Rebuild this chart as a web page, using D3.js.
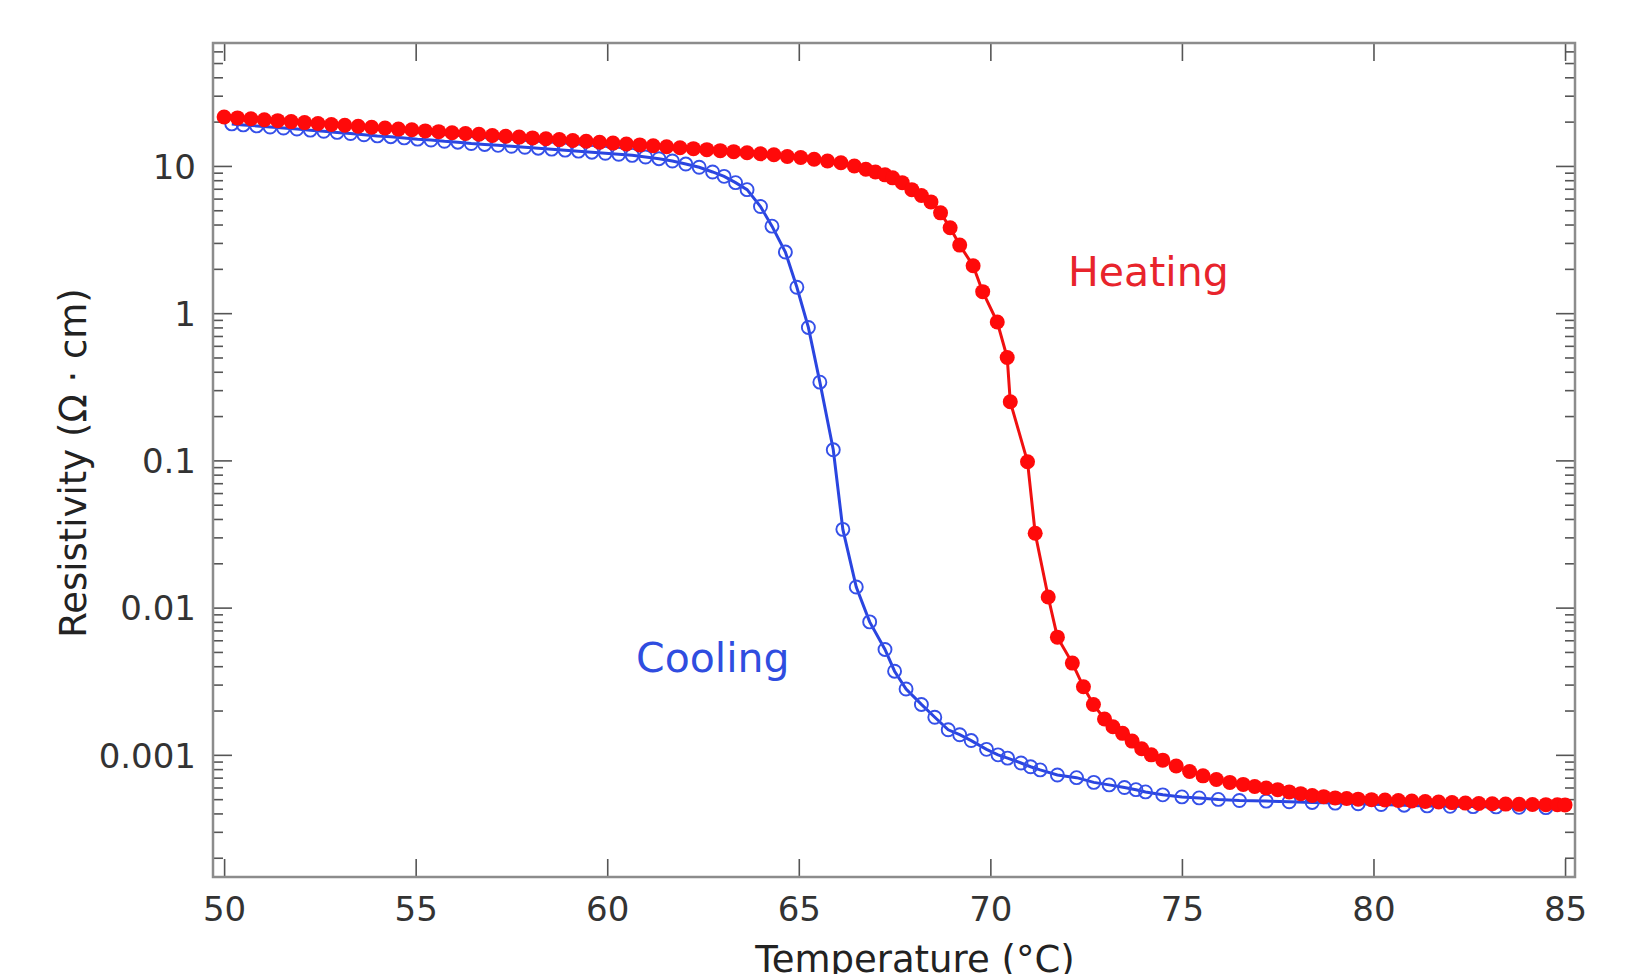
<!DOCTYPE html>
<html>
<head>
<meta charset="utf-8">
<script src="https://cdn.jsdelivr.net/npm/d3@7"></script>
<style>
  body { margin: 0; background: #fff; }
  svg { display: block; }
  .axis text { font-family: "DejaVu Sans", sans-serif; font-size: 34px; fill: #333; }
  .axis path { display: none; }
  .axis line { stroke: #555; stroke-width: 1.6; }
</style>
</head>
<body>
<div id="chart"></div>
<script>
var width = 1645, height = 974;

// heating run (filled red dots)
var heatT = [50.0, 50.35, 50.7, 51.05, 51.4, 51.75, 52.1, 52.45, 52.8, 53.15, 53.5, 53.85, 54.2, 54.55, 54.9,
  55.25, 55.6, 55.95, 56.3, 56.65, 57.0, 57.35, 57.7, 58.05, 58.4, 58.75, 59.1, 59.45, 59.8, 60.15,
  60.5, 60.85, 61.2, 61.55, 61.9, 62.25, 62.6, 62.95, 63.3, 63.65, 64.0, 64.35, 64.7, 65.05, 65.4,
  65.75, 66.1, 66.45, 66.75, 67.0, 67.25, 67.45, 67.7, 67.95, 68.2, 68.45, 68.7, 68.95, 69.2, 69.55,
  69.8, 70.18, 70.44, 70.52, 70.97, 71.17, 71.51, 71.75, 72.14, 72.43, 72.69, 72.98, 73.2, 73.45, 73.7,
  73.95, 74.2, 74.5, 74.85, 75.2, 75.55, 75.9, 76.25, 76.6, 76.9, 77.2, 77.5, 77.8, 78.1, 78.4,
  78.7, 79.0, 79.3, 79.6, 79.95, 80.3, 80.65, 81.0, 81.35, 81.7, 82.05, 82.4, 82.75, 83.1, 83.45,
  83.8, 84.15, 84.5, 84.8, 85.0];
var heatR = [21.5, 21.2, 20.9, 20.6, 20.3, 20.0, 19.7, 19.4, 19.1, 18.9, 18.6, 18.3, 18.1, 17.8, 17.6,
  17.3, 17.1, 16.8, 16.6, 16.4, 16.1, 15.9, 15.7, 15.5, 15.3, 15.1, 14.9, 14.7, 14.5, 14.3,
  14.1, 13.9, 13.7, 13.5, 13.3, 13.1, 12.9, 12.7, 12.5, 12.3, 12.1, 11.9, 11.6, 11.4, 11.1,
  10.8, 10.5, 10.0, 9.5, 9.1, 8.7, 8.3, 7.7, 6.9, 6.3, 5.7, 4.8, 3.8, 2.9, 2.1,
  1.4, 0.87, 0.5, 0.25, 0.098, 0.032, 0.0118, 0.0063, 0.0042, 0.0029, 0.0022, 0.00175, 0.00155, 0.0014, 0.00124,
  0.0011, 0.001, 0.00092, 0.00084, 0.00077, 0.00072, 0.00068, 0.00065, 0.00063, 0.00061, 0.000595, 0.00058, 0.00056, 0.000545, 0.00053,
  0.00052, 0.00051, 0.000505, 0.0005, 0.000496, 0.000494, 0.00049, 0.000486, 0.000482, 0.000478, 0.000474, 0.00047, 0.000467, 0.000465, 0.000463,
  0.000461, 0.00046, 0.000459, 0.000458, 0.000457];

// cooling run (open blue circles)
var coolT = [50.2, 50.5, 50.85, 51.2, 51.55, 51.9, 52.25, 52.6, 52.95, 53.3, 53.65, 54.0, 54.35, 54.7, 55.05,
  55.4, 55.75, 56.1, 56.45, 56.8, 57.15, 57.5, 57.85, 58.2, 58.55, 58.9, 59.25, 59.6, 59.95, 60.3,
  60.65, 61.0, 61.35, 61.7, 62.05, 62.4, 62.75, 63.05, 63.35, 63.65, 64.0, 64.3, 64.65, 64.95, 65.25,
  65.55, 65.9, 66.15, 66.5, 66.85, 67.25, 67.5, 67.8, 68.2, 68.55, 68.9, 69.2, 69.5, 69.9, 70.2,
  70.45, 70.8, 71.05, 71.3, 71.75, 72.25, 72.7, 73.1, 73.5, 73.8, 74.05, 74.5, 75.0, 75.45, 75.95,
  76.5, 77.2, 77.8, 78.4, 79.0, 79.6, 80.2, 80.8, 81.4, 82.0, 82.6, 83.2, 83.8, 84.5];
var coolR = [19.3, 19.0, 18.7, 18.4, 18.1, 17.8, 17.5, 17.2, 16.9, 16.6, 16.3, 16.0, 15.8, 15.5, 15.2,
  15.0, 14.7, 14.5, 14.2, 14.0, 13.8, 13.6, 13.4, 13.2, 13.0, 12.8, 12.6, 12.4, 12.2, 12.0,
  11.8, 11.5, 11.2, 10.8, 10.3, 9.8, 9.1, 8.5, 7.7, 6.9, 5.3, 3.9, 2.6, 1.5, 0.8,
  0.34, 0.118, 0.034, 0.0138, 0.008, 0.0052, 0.0037, 0.0028, 0.0022, 0.0018, 0.00148, 0.00137, 0.00125, 0.00109, 0.001,
  0.00095, 0.00088, 0.00083, 0.00079, 0.00073, 0.0007, 0.00065, 0.000625, 0.0006, 0.00058, 0.00056, 0.000535, 0.000518, 0.00051, 0.000498,
  0.00049, 0.000485, 0.00048, 0.000475, 0.00047, 0.000465, 0.00046, 0.000455, 0.00045, 0.000447, 0.000445, 0.000443, 0.00044, 0.000438];

var xTicks = [50, 55, 60, 65, 70, 75, 80, 85];
var yMajor = [0.001, 0.01, 0.1, 1, 10];
var yLabels = ["0.001", "0.01", "0.1", "1", "10"];

var mLeft = 213, mRight = 1575, mTop = 43, mBottom = 877;

var svg = d3.select("#chart").append("svg")
  .attr("width", width)
  .attr("height", height);

var x = d3.scaleLinear().domain([49.71, 85.26]).range([mLeft, mRight]);
var y = d3.scaleLog().domain([1.48e-4, 68.4]).range([mBottom, mTop]);

// minor ticks of the log axis, no labels
var yMinor = y.ticks().filter(function(v) {
  return yMajor.every(function(m) { return Math.abs(v / m - 1) > 1e-6; });
});

function fmtY(v, i) { return yLabels[i]; }

// bottom + top
svg.append("g").attr("class", "axis xax")
  .attr("transform", "translate(0," + mBottom + ")")
  .call(d3.axisBottom(x).tickValues(xTicks).tickSize(-18).tickPadding(19).tickFormat(d3.format("d")));
svg.append("g").attr("class", "axis")
  .attr("transform", "translate(0," + mTop + ")")
  .call(d3.axisTop(x).tickValues(xTicks).tickSize(-18).tickFormat(""));

// left + right, major and minor
svg.append("g").attr("class", "axis yax")
  .attr("transform", "translate(" + mLeft + ",0)")
  .call(d3.axisLeft(y).tickValues(yMajor).tickSize(-19).tickPadding(17).tickFormat(fmtY));
svg.append("g").attr("class", "axis")
  .attr("transform", "translate(" + mLeft + ",0)")
  .call(d3.axisLeft(y).tickValues(yMinor).tickSize(-10).tickFormat(""));
svg.append("g").attr("class", "axis")
  .attr("transform", "translate(" + mRight + ",0)")
  .call(d3.axisRight(y).tickValues(yMajor).tickSize(-19).tickFormat(""));
svg.append("g").attr("class", "axis")
  .attr("transform", "translate(" + mRight + ",0)")
  .call(d3.axisRight(y).tickValues(yMinor).tickSize(-10).tickFormat(""));

svg.selectAll(".xax text").attr("dy", "0.74em");
svg.selectAll(".yax text").attr("dy", "0.36em");

// frame
svg.append("rect")
  .attr("x", mLeft).attr("y", mTop)
  .attr("width", mRight - mLeft).attr("height", mBottom - mTop)
  .attr("fill", "none")
  .attr("stroke", "#8c8c8c")
  .attr("stroke-width", 2.5);

var heat = heatT.map(function(t, i) { return {t: t, r: heatR[i]}; });
var cool = coolT.map(function(t, i) { return {t: t, r: coolR[i]}; });

var line = d3.line()
  .x(function(d) { return x(d.t); })
  .y(function(d) { return y(d.r); });

var plot = svg.append("g");

plot.append("path")
  .datum(cool)
  .attr("d", line)
  .attr("fill", "none")
  .attr("stroke", "#2a45e0")
  .attr("stroke-width", 3);

plot.selectAll(".cdot")
  .data(cool)
  .enter().append("circle")
  .attr("class", "cdot")
  .attr("cx", function(d) { return x(d.t); })
  .attr("cy", function(d) { return y(d.r); })
  .attr("r", 6.5)
  .attr("fill", "none")
  .attr("stroke", "#3550e8")
  .attr("stroke-width", 1.9);

plot.append("path")
  .datum(heat)
  .attr("d", line)
  .attr("fill", "none")
  .attr("stroke", "#f01010")
  .attr("stroke-width", 3);

plot.selectAll(".hdot")
  .data(heat)
  .enter().append("circle")
  .attr("class", "hdot")
  .attr("cx", function(d) { return x(d.t); })
  .attr("cy", function(d) { return y(d.r); })
  .attr("r", 7.5)
  .attr("fill", "#ff0a0a");

// annotations
svg.append("text")
  .attr("x", 1068).attr("y", 286)
  .attr("font-family", "DejaVu Sans, sans-serif")
  .attr("font-size", 41)
  .attr("fill", "#e8242c")
  .text("Heating");

svg.append("text")
  .attr("x", 636).attr("y", 672)
  .attr("font-family", "DejaVu Sans, sans-serif")
  .attr("font-size", 41)
  .attr("fill", "#2f4de0")
  .text("Cooling");

// axis titles (bottom one runs off the page as in the original)
svg.append("text")
  .attr("x", 915).attr("y", 972)
  .attr("text-anchor", "middle")
  .attr("font-family", "DejaVu Sans, sans-serif")
  .attr("font-size", 37)
  .attr("fill", "#222")
  .text("Temperature (°C)");

svg.append("text")
  .attr("transform", "translate(86,463) rotate(-90)")
  .attr("text-anchor", "middle")
  .attr("font-family", "DejaVu Sans, sans-serif")
  .attr("font-size", 37)
  .attr("fill", "#222")
  .text("Resistivity (Ω · cm)");
</script>
</body>
</html>
